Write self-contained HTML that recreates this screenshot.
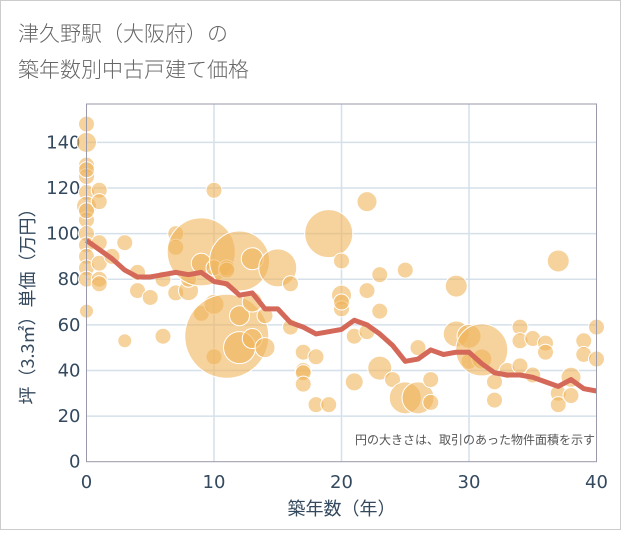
<!DOCTYPE html>
<html><head><meta charset="utf-8"><style>
body{margin:0;background:#fff;font-family:"DejaVu Sans","Noto Sans CJK JP",sans-serif}
#wrap{position:relative;width:619px;height:528px;border:1px solid #ccc;background:#fff}
</style></head><body>
<div id="wrap">
<svg id="chart" width="619" height="528"></svg>
</div>
<script>
const xTicks=[0,10,20,30,40];
const yTicks=[0,20,40,60,80,100,120,140];
const lineYears=[0,1,2,3,4,5,6,7,8,9,10,11,12,13,14,15,16,17,18,19,20,21,22,23,24,25,26,27,28,29,30,31,32,33,34,35,36,37,38,39,40];
const lineValues=[97,93,89,84,81,81,82,83,82,83,79,78,73,74,67,67,61,59,56,57,58,62,60,56,51,44,45,49,47,48,48,43,39,38,38,37,35,33,36,32,31];
const bubX=[0,0,0,0,0,0,0,0,0,0,0,0,0,0,0,1,1,1,1,1,1,2,3,3,4,4,5,6,6,7,7,7,8,8,9,9,9,10,10,10,10,11,11,11,12,12,12,13,13,13,14,14,15,16,16,17,17,17,17,18,18,19,19,20,20,20,20,21,21,22,22,22,23,23,23,24,25,25,26,26,27,27,29,29,30,30,31,31,32,32,33,34,34,34,35,35,36,36,37,37,37,38,38,39,39,40,40];
const bubY=[148,140,130,125,118,112,106,100,95,90,85,80,66,128,110,119,114,96,87,80,78,90,96,53,83,75,72,80,55,100,94,74,75,80,92,87,65,119,85,69,46,55,85,84,88,64,50,89,70,54,64,50,85,78,59,48,40,39,34,25,46,25,100,88,73,67,70,55,35,114,75,57,82,66,41,36,84,28,50,28,36,26,77,56,55,44,45,49,27,35,40,59,53,42,54,38,52,48,88,30,25,37,29,53,47,59,45];
const bubR=[8,10,8,8,8,10,8,8,8,8,8,8,7,8,8,8,8,8,8,8,8,8,8,7,8,8,8,8,8,8,8,8,10,8,34,10,8,8,8,10,8,42,8,8,30,10,16,11,10,10,8,10,19,8,8,8,8,8,8,8,8,8,24,8,10,8,8,8,9,10,8,8,8,8,12,8,8,16,8,16,8,8,11,13,12,8,10,26,8,8,8,8,8,8,8,8,8,8,11,8,8,10,8,8,8,8,8];
const X0=85.5,XS=12.75,Y0=460.7,YS=2.281;
const sx=v=>X0+v*XS, sy=v=>Y0-v*YS;
const svg=document.getElementById('chart');
const NS='http://www.w3.org/2000/svg';
function mk(t,a,p){const e=document.createElementNS(NS,t);for(const k in a)e.setAttribute(k,a[k]);(p||svg).appendChild(e);return e;}
const t1=mk('text',{x:17,y:40,'font-size':21,fill:'#666','font-family':'"Noto Sans CJK JP",sans-serif','font-weight':300});t1.textContent='津久野駅（大阪府）の';

const t2=mk('text',{x:17,y:76,'font-size':21,fill:'#666','font-family':'"Noto Sans CJK JP",sans-serif','font-weight':300});t2.textContent='築年数別中古戸建て価格';

const grid=mk('g',{});
yTicks.forEach(v=>{if(v>0)mk('line',{x1:X0,x2:sx(40),y1:sy(v),y2:sy(v),stroke:'#d5e0ea','stroke-width':1.5},grid);
const l=mk('text',{x:X0-6,y:sy(v)+6,'text-anchor':'end','font-size':18,fill:'#34495e'});l.textContent=v;
});
xTicks.forEach(v=>{if(v>0&&v<40)mk('line',{x1:sx(v),x2:sx(v),y1:103,y2:Y0,stroke:'#d5e0ea','stroke-width':1.5},grid);
const l=mk('text',{x:sx(v),y:487,'text-anchor':'middle','font-size':18,fill:'#34495e'});l.textContent=v;
});
const bg=mk('g',{});
bubX.forEach((x,i)=>{const c=mk('circle',{cx:sx(x),cy:sy(bubY[i]),r:bubR[i],fill:'rgba(240,180,90,0.6)',stroke:'#fff','stroke-width':1},bg);
});
const pts=lineYears.map((x,i)=>sx(x)+','+sy(lineValues[i])).join(' ');
const pl=mk('polyline',{points:pts,fill:'none',stroke:'#d4695a','stroke-width':5,'stroke-linejoin':'round'});

const fr=mk('rect',{x:X0,y:103,width:sx(40)-X0,height:Y0-103,fill:'none',stroke:'#99a',"stroke-width":1});

const note=mk('text',{x:594,y:443,'text-anchor':'end','font-size':12,fill:'#555','font-family':'"Noto Sans CJK JP",sans-serif'});note.textContent='円の大きさは、取引のあった物件面積を示す';

const xt=mk('text',{x:sx(20),y:514,'text-anchor':'middle','font-size':18,fill:'#34495e','font-family':'"Noto Sans CJK JP",sans-serif'});xt.textContent='築年数（年）';

const yt=mk('text',{x:0,y:0,'text-anchor':'middle','font-size':18,fill:'#34495e','font-family':'"Noto Sans CJK JP",sans-serif',transform:'translate(33,'+sy(70)+') rotate(-90)'});yt.textContent='坪（3.3㎡）単価（万円）';

</script>
</body></html>
